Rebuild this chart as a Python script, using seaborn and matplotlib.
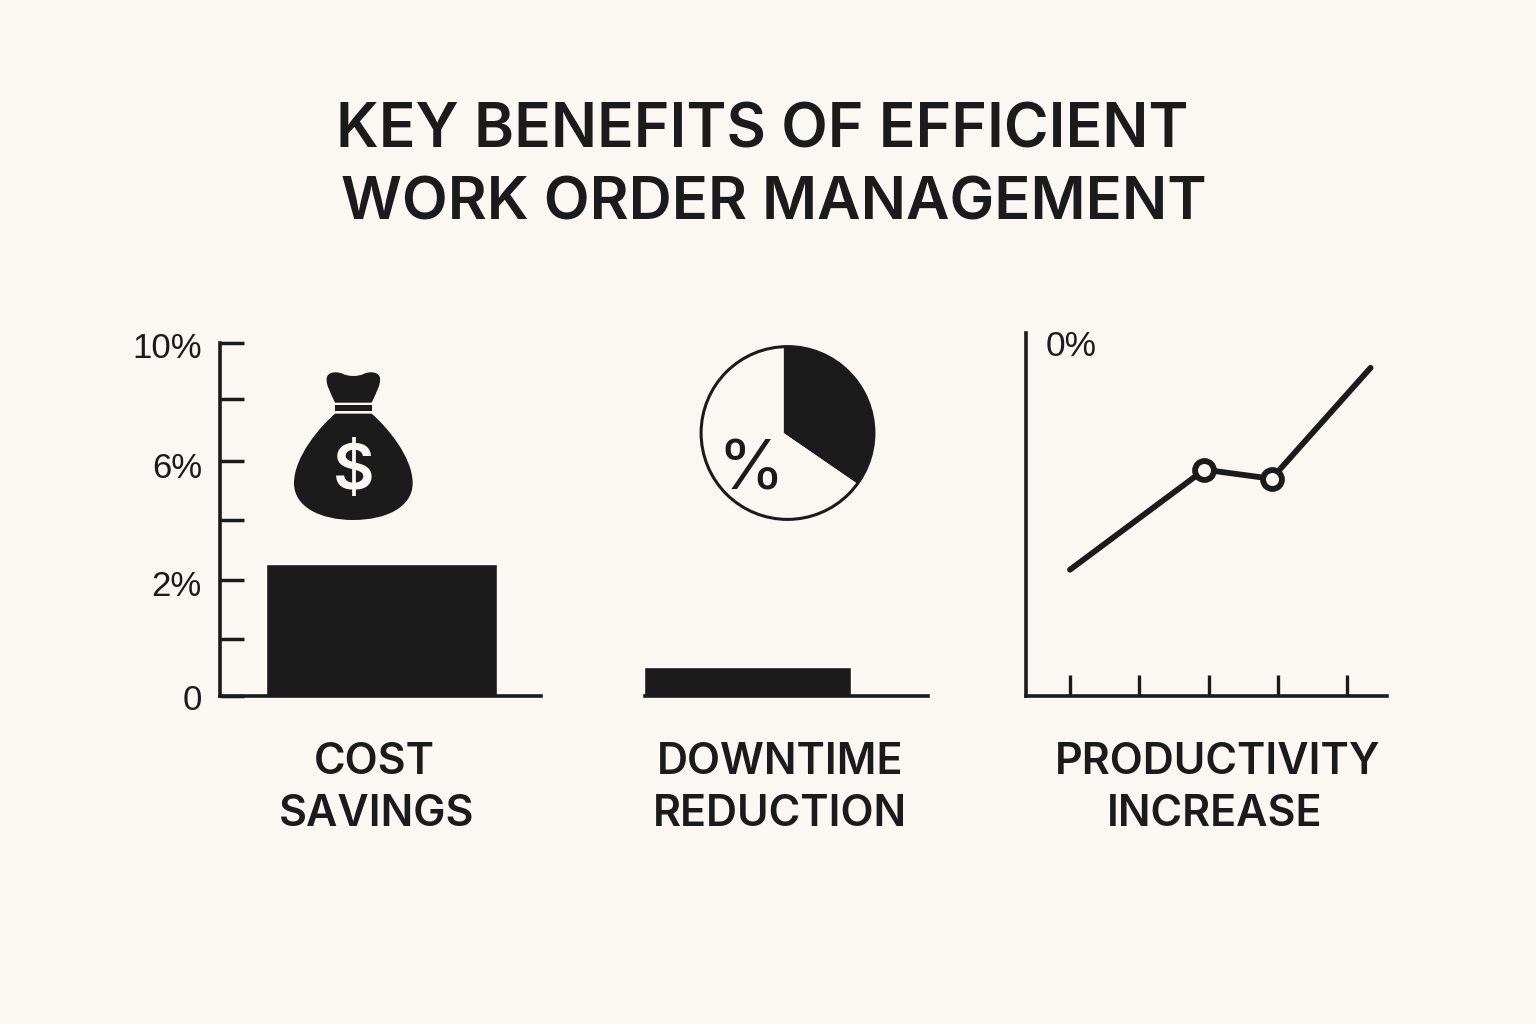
import matplotlib.pyplot as plt
from matplotlib.patches import Circle, PathPatch, Rectangle
from matplotlib.path import Path
from matplotlib.transforms import ScaledTranslation
import pandas as pd
import seaborn as sns

BG = "#FBF8F3"
DARK = "#1B1B1B"
W, H = 1536, 1024

# Data
title_lines = ["KEY BENEFITS OF EFFICIENT", "WORK ORDER MANAGEMENT"]
categories = [["COST", "SAVINGS"], ["DOWNTIME", "REDUCTION"], ["PRODUCTIVITY", "INCREASE"]]

# left panel: axis is not linear, so values are given in tick steps
cost_ticks = [0, 0.97, 1.96, 2.98, 4, 5.04, 6]
cost_tick_labels = ["0", "", "2%", "", "6%", "", "10%"]
cost_value = [2.23]
downtime_value = [0.49]

# pie icon
pie_values = [34.6, 65.4]

# right panel
prod_ticks = [0, 1, 2, 3, 4]
prod_x = [0, 1.94, 2.91, 4.34]
prod_y = [34.7, 62.3, 59.8, 90.4]


def box(left, top, right, bottom):
    # pixel box to figure fractions
    return [left / W, 1 - bottom / H, (right - left) / W, (bottom - top) / H]


sns.set_theme(style="white", rc={"figure.facecolor": BG, "axes.facecolor": "none"})
plt.rcParams["font.family"] = ["Inter", "DejaVu Sans"]

fig = plt.figure(figsize=(W / 100, H / 100), dpi=100, facecolor=BG)

# --- cost savings
ax1 = fig.add_axes(box(220, 343, 541, 695.5))
sns.barplot(x=["cost"], y=cost_value, color=DARK, width=1, saturation=1, ax=ax1)
ax1.set_xlim(-0.70, 0.691)
ax1.set_ylim(0, 6)
ax1.set_yticks(cost_ticks)
ax1.set_yticklabels(cost_tick_labels, fontsize=25, color=DARK, family="Liberation Sans")
ax1.set_xticks([])
ax1.set_xlabel("")
ax1.set_ylabel("")
ax1.tick_params(axis="y", direction="in", length=17, width=2.5, color=DARK, pad=13, left=True)
# the labels sit a little under their ticks in the original
label_drop = [1, 0, 3, 0, 5, 0, 2]
for lab, drop in zip(ax1.get_yticklabels(), label_drop):
    lab.set_transform(lab.get_transform() + ScaledTranslation(0, -drop / 100, fig.dpi_scale_trans))
for s in ["left", "bottom"]:
    ax1.spines[s].set_linewidth(2.6)
    ax1.spines[s].set_color(DARK)
sns.despine(ax=ax1)

# --- downtime reduction
ax2 = fig.add_axes(box(645, 343, 928, 695.5))
sns.barplot(x=["downtime"], y=downtime_value, color=DARK, width=1, saturation=1, ax=ax2)
ax2.set_xlim(-0.495, 0.874)
ax2.set_ylim(0, 6)
ax2.set_xticks([])
ax2.set_yticks([])
ax2.set_xlabel("")
ax2.set_ylabel("")
ax2.spines["bottom"].set_linewidth(2.6)
ax2.spines["bottom"].set_color(DARK)
sns.despine(ax=ax2, left=True)

# pie icon, the wedge tip is a bit left of the circle centre
ax_pie = fig.add_axes(box(697.5, 344, 877.5, 522))
wedges, _ = ax_pie.pie(pie_values, colors=[DARK, BG], startangle=90, counterclock=False,
                       radius=1.045, center=(-0.045, 0), wedgeprops={"linewidth": 0})
ax_pie.set_xlim(-1.03, 1.03)
ax_pie.set_ylim(-1.03, 1.03)
outline = Circle((0, 0), 1, fc="none", ec=DARK, lw=2.2, zorder=5)
ax_pie.add_patch(outline)
for w in wedges:
    w.set_clip_on(True)
    w.set_clip_path(outline)
fig.text(751 / W, 1 - 471 / H, "%", fontsize=49, fontweight="regular", color=DARK, ha="center", va="center")

# --- productivity increase
ax3 = fig.add_axes(box(1026, 333, 1387, 695.5))
prod = pd.DataFrame({"x": prod_x, "y": prod_y})
sns.lineplot(data=prod, x="x", y="y", color=DARK, linewidth=4.2, solid_capstyle="round", ax=ax3)
sns.scatterplot(data=prod.iloc[1:3], x="x", y="y", s=185, color=BG, edgecolor=DARK, linewidth=4.2, zorder=5, ax=ax3)
ax3.set_xlim(-0.635, 4.577)
ax3.set_ylim(0, 100)
ax3.set_xticks(prod_ticks)
ax3.set_xticklabels([])
ax3.set_yticks([])
ax3.set_xlabel("")
ax3.set_ylabel("")
ax3.tick_params(axis="x", direction="in", length=15, width=2.4, color=DARK, bottom=True)
for s in ["left", "bottom"]:
    ax3.spines[s].set_linewidth(2.6)
    ax3.spines[s].set_color(DARK)
sns.despine(ax=ax3)
fig.text(1071 / W, 1 - 346 / H, "0%", fontsize=25.5, color=DARK, ha="center", va="center", family="Liberation Sans")

# --- money bag icon, coordinates are 3x pixels from (120, 320)
ax_bag = fig.add_axes(box(120, 320, 560, 720))
ax_bag.set_xlim(0, 1320)
ax_bag.set_ylim(1200, 0)
ax_bag.axis("off")
M, L, C, Z = Path.MOVETO, Path.LINETO, Path.CURVE4, Path.CLOSEPOLY
body = Path(
    [(645, 281), (755, 281), (800, 320), (878, 410), (878, 490), (878, 560), (800, 600), (700, 600),
     (600, 600), (522, 560), (522, 490), (522, 410), (600, 320), (645, 281), (645, 281)],
    [M, L, C, C, C, C, C, C, C, C, C, C, C, C, Z],
)
knot = Path(
    [(645, 248), (630, 215), (618, 195), (620, 175), (622, 155), (650, 153), (670, 162), (685, 170),
     (715, 170), (730, 162), (750, 153), (778, 155), (780, 175), (782, 195), (770, 215), (755, 248), (645, 248)],
    [M, C, C, C, C, C, C, C, C, C, C, C, C, C, C, C, Z],
)
ax_bag.add_patch(PathPatch(body, fc=DARK, ec="none"))
ax_bag.add_patch(PathPatch(knot, fc=DARK, ec="none"))
ax_bag.add_patch(Rectangle((645, 256), 110, 16, fc=DARK, ec="none"))
ax_bag.text(701, 456, "$", fontsize=46, color=BG, ha="center", va="center", fontweight="semibold")

# --- text
title_base = [148, 220]
title_x = [762, 774]
title_size = [43.7, 43]
for line, x, y, fs in zip(title_lines, title_x, title_base, title_size):
    fig.text(x / W, 1 - y / H, line, fontsize=fs, fontweight="semibold", color=DARK, ha="center", va="baseline")

label_x = [[374.5, 376.5], [780, 780], [1218, 1215]]
label_base = [773.5, 826]
for cat, xs in zip(categories, label_x):
    for word, x, y in zip(cat, xs, label_base):
        fig.text(x / W, 1 - y / H, word, fontsize=31, fontweight="semibold", color=DARK, ha="center", va="baseline")

fig.savefig("out.png", dpi=100, facecolor=BG)
